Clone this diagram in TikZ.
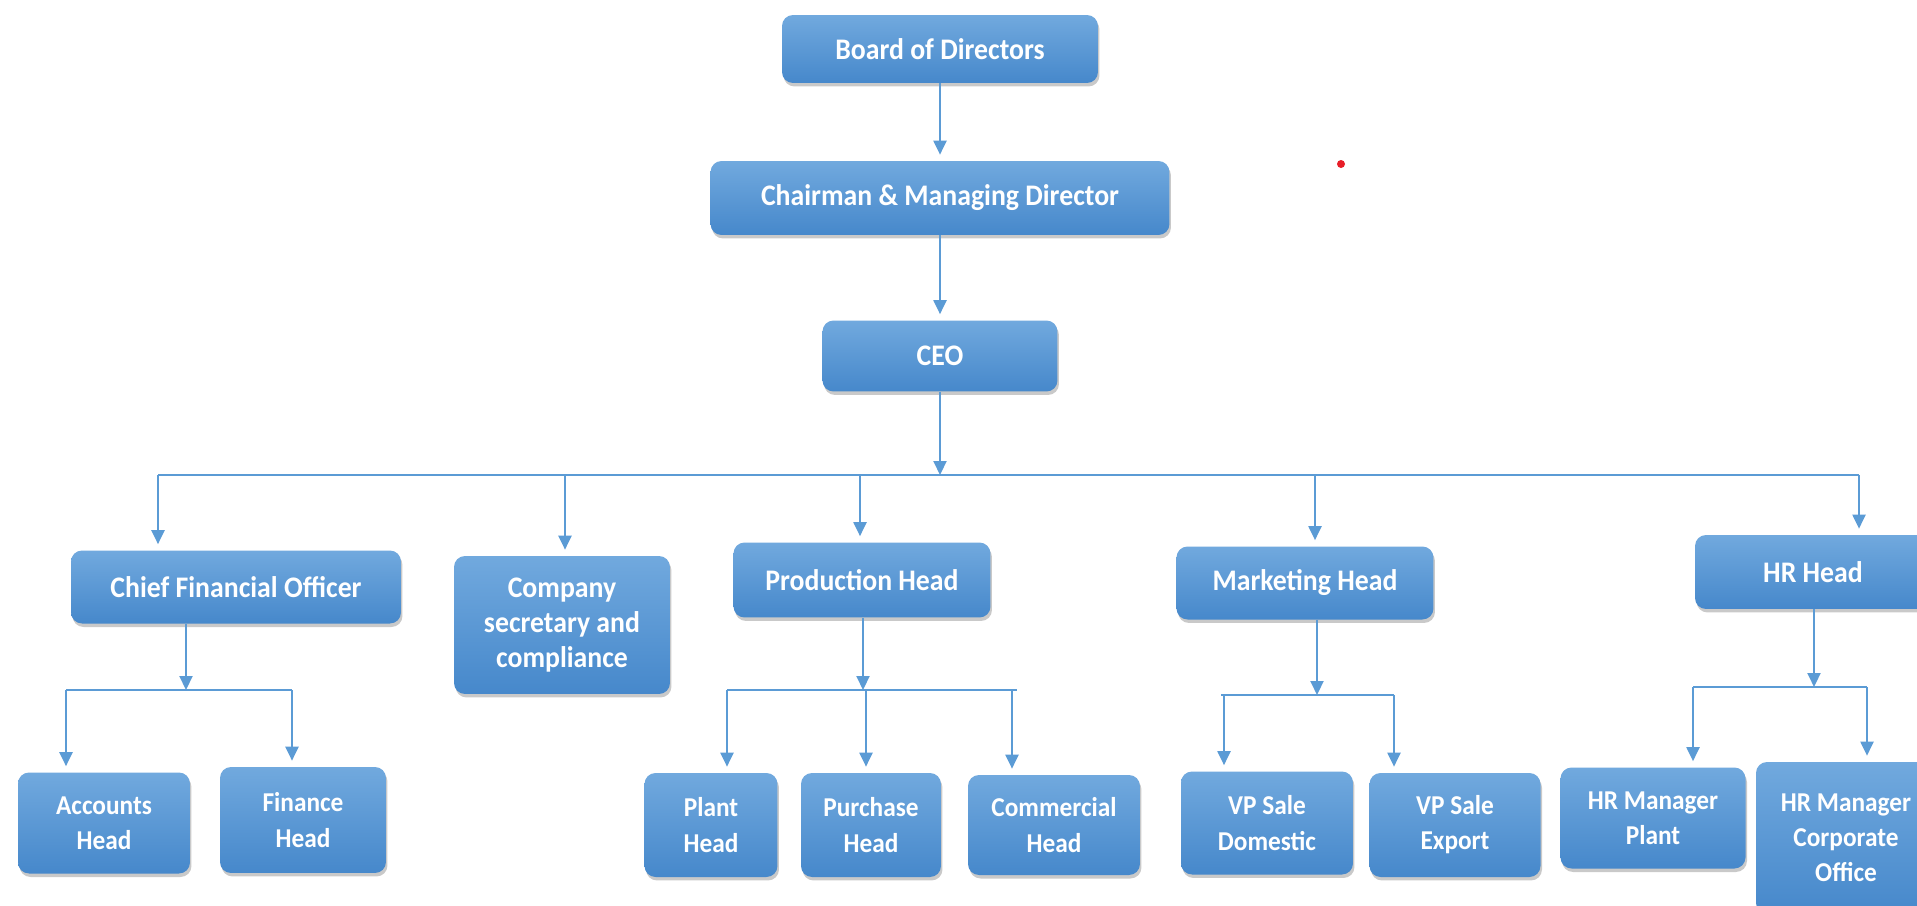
\documentclass[tikz,border=0pt]{standalone}
\usepackage{fontspec}
\newfontfamily\boxfont[FakeStretch=0.93]{Carlito}
\usepackage{xcolor}
\usetikzlibrary{arrows.meta, shadows}
\definecolor{boxtop}{RGB}{113,169,222}
\definecolor{boxbot}{RGB}{70,136,203}
\definecolor{linkblue}{RGB}{91,155,213}
\definecolor{dotred}{RGB}{232,30,40}
\tikzset{
  post/.style ={rectangle, rounded corners=0.22cm, top color=boxtop, bottom color=boxbot,
                draw=none, text=white, align=center, inner sep=0pt,
                font=\boxfont\bfseries\fontsize{17}{20}\selectfont,
                drop shadow={shadow xshift=0.03cm, shadow yshift=-0.07cm,
                             opacity=0.35, fill=black!60}},
  staff/.style={post, font=\boxfont\bfseries\fontsize{15.5}{20}\selectfont},
}

\begin{document}
\begin{tikzpicture}[x=0.02cm, y=-0.02cm]

  % ── Connector styles ───────────────────────────────────────────────
  \tikzset{
    link/.style={line width=1.2pt, linkblue},
    arrj/.style={-{Triangle[width=0.26cm, length=0.28cm]}, line width=1.2pt, linkblue},
    arr/.style ={arrj, shorten >=0.12cm},
  }

  \path[use as bounding box, fill=white] (0,0) rectangle (1917,906);

  % ── Top of the chart ───────────────────────────────────────────────
  \node[post, minimum width=6.32cm, minimum height=1.36cm] (bod) at (940,49)  {Board of Directors};
  \node[post, minimum width=9.18cm, minimum height=1.48cm] (cmd) at (940,198) {Chairman \& Managing Director};
  \node[post, minimum width=4.70cm, minimum height=1.42cm] (ceo) at (940,356) {CEO};

  \draw[arr] (bod) -- (cmd);
  \draw[arr] (cmd) -- (ceo);

  % ── Heads ──────────────────────────────────────────────────────────
  \node[post, minimum width=6.60cm, minimum height=1.46cm] (cfo) at (236,587)  {Chief Financial Officer};
  \node[post, minimum width=4.32cm, minimum height=2.76cm] (csc) at (562,625)  {Company\\secretary and\\compliance};
  \node[post, minimum width=5.14cm, minimum height=1.50cm] (prd) at (862,580)  {Production Head};
  \node[post, minimum width=5.14cm, minimum height=1.46cm] (mkt) at (1305,583) {Marketing Head};
  \node[post, minimum width=4.72cm, minimum height=1.48cm] (hrh) at (1813,572) {HR Head};

  % ── Bus below CEO ──────────────────────────────────────────────────
  \coordinate (bus) at (940,475);
  \coordinate (jCFO) at (158,475);  \coordinate (jCSC) at (565,475);
  \coordinate (jPRD) at (860,475);  \coordinate (jMKT) at (1315,475);
  \coordinate (jHRH) at (1859,475);

  \draw[arrj] (ceo) -- (bus);
  \draw[link] (jCFO) -- (jHRH);
  \draw[arr] (jCFO) -- (jCFO |- cfo.north);
  \draw[arr] (jCSC) -- (jCSC |- csc.north);
  \draw[arr] (jPRD) -- (jPRD |- prd.north);
  \draw[arr] (jMKT) -- (jMKT |- mkt.north);
  \draw[arr] (jHRH) -- (jHRH |- hrh.north);

  % ── Finance team ───────────────────────────────────────────────────
  \node[staff, minimum width=3.44cm, minimum height=2.02cm] (acc) at (104,823) {Accounts\\Head};
  \node[staff, minimum width=3.32cm, minimum height=2.12cm] (fin) at (303,820) {Finance\\Head};

  \coordinate (fIn) at (186,690);
  \coordinate (fA) at (66,690);  \coordinate (fB) at (292,690);
  \draw[arrj] (fIn |- cfo.south) -- (fIn);
  \draw[link] (fA) -- (fB);
  \draw[arr] (fA) -- (fA |- acc.north);
  \draw[arr] (fB) -- (fB |- fin.north);

  % ── Production team ────────────────────────────────────────────────
  \node[staff, minimum width=2.66cm, minimum height=2.08cm] (pla) at (711,825)  {Plant\\Head};
  \node[staff, minimum width=2.80cm, minimum height=2.08cm] (pur) at (871,825)  {Purchase\\Head};
  \node[staff, minimum width=3.44cm, minimum height=2.00cm] (com) at (1054,825) {Commercial\\Head};

  \coordinate (pIn) at (863,690);
  \coordinate (pL) at (727,690);  \coordinate (pR) at (1017,690);
  \coordinate (pA) at (727,690);  \coordinate (pB) at (866,690);  \coordinate (pC) at (1012,690);
  \draw[arrj] (pIn |- prd.south) -- (pIn);
  \draw[link] (pL) -- (pR);
  \draw[arr] (pA) -- (pA |- pla.north);
  \draw[arr] (pB) -- (pB |- pur.north);
  \draw[arr] (pC) -- (pC |- com.north);

  % ── Marketing team ─────────────────────────────────────────────────
  \node[staff, minimum width=3.44cm, minimum height=2.06cm] (vpd) at (1267,823) {VP Sale\\Domestic};
  \node[staff, minimum width=3.42cm, minimum height=2.08cm] (vpe) at (1455,825) {VP Sale\\Export};

  \coordinate (mIn) at (1317,695);
  \coordinate (mL) at (1221,695);  \coordinate (mR) at (1394,695);
  \coordinate (mA) at (1224,695);  \coordinate (mB) at (1394,695);
  \draw[arrj] (mIn |- mkt.south) -- (mIn);
  \draw[link] (mL) -- (mR);
  \draw[arr] (mA) -- (mA |- vpd.north);
  \draw[arr] (mB) -- (mB |- vpe.north);

  % ── HR team ────────────────────────────────────────────────────────
  \node[staff, minimum width=3.70cm, minimum height=2.02cm] (hrp) at (1653,818) {HR Manager\\Plant};
  \node[staff, minimum width=3.60cm, minimum height=3.04cm] (hrc) at (1846,838) {HR Manager\\Corporate\\Office};

  \coordinate (hIn) at (1814,687);
  \coordinate (hA) at (1693,687);  \coordinate (hB) at (1867,687);
  \draw[arrj] (hIn |- hrh.south) -- (hIn);
  \draw[link] (hA) -- (hB);
  \draw[arr] (hA) -- (hA |- hrp.north);
  \draw[arr] (hB) -- (hB |- hrc.north);

  % stray red mark
  \fill[dotred] (1341,164) circle (0.08cm);

\end{tikzpicture}
\end{document}
